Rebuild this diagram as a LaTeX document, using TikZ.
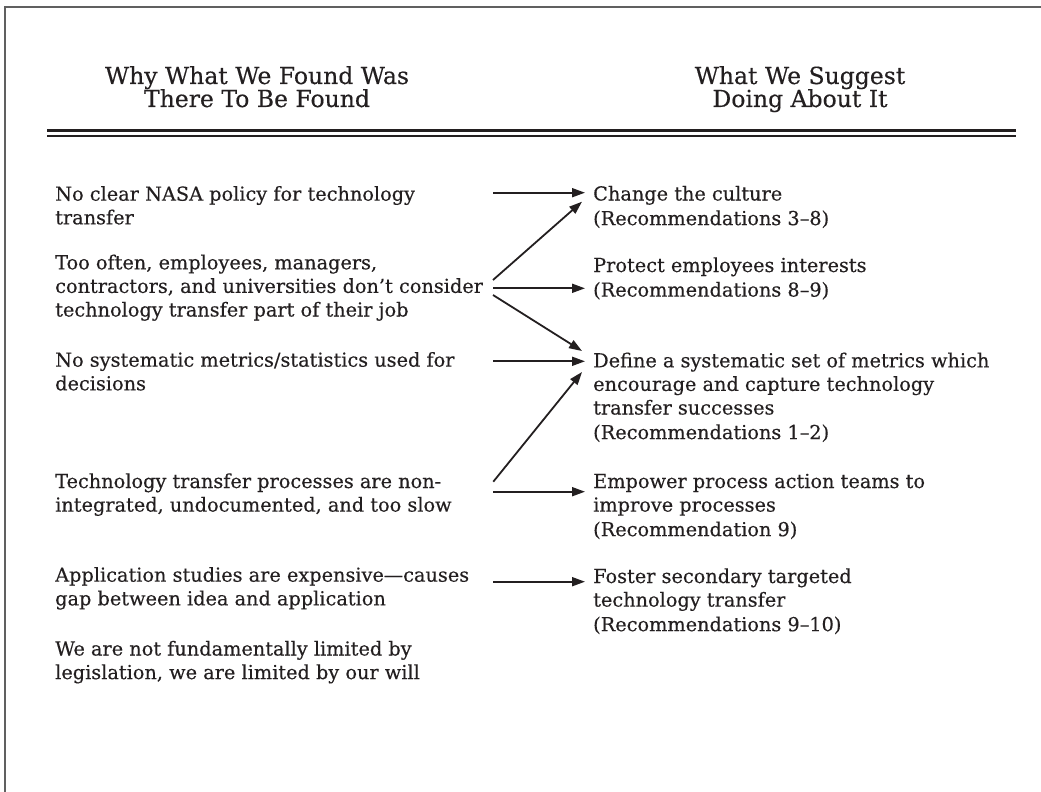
\documentclass[tikz,border=0pt]{standalone}
\usepackage{fontspec}
\setmainfont{DejaVu Serif}[FakeBold=0.35]
\usetikzlibrary{arrows.meta}
\definecolor{ink}{HTML}{231F20}
\definecolor{framegray}{HTML}{606060}
\newcommand{\txtblock}[1]{\parbox[t]{480pt}{\raggedright\lineskiplimit=-\maxdimen #1}}
\newcommand{\ttlblock}[1]{\parbox[t]{400pt}{\centering\lineskiplimit=-\maxdimen #1}}
\tikzset{
  item/.style={anchor=base west, inner sep=0pt, text=ink, font=\fontsize{19.3}{23.6}\selectfont},
  ttl/.style={anchor=base, inner sep=0pt, text=ink, font=\fontsize{23.5}{23}\selectfont},
  link/.style={draw=ink, line width=1.8pt, -{Triangle[length=13pt,width=9pt]}},
}
\begin{document}
\begin{tikzpicture}[x=1pt,y=-1pt]
\useasboundingbox (0,0) rectangle (1041,792);
% frame
\draw[framegray, line width=1.3pt] (5,792) -- (5,7) -- (1041,7);
% titles
\node[ttl] (tl) at (257,84) {\ttlblock{Why What We Found Was\\There To Be Found}};
\node[ttl] (tr) at (800,84) {\ttlblock{What We Suggest\\Doing About It}};
% double rule
\draw[ink, line width=3.5pt] (47,130.5) -- (1016,130.5);
\draw[ink, line width=1.8pt] (47,136.3) -- (1016,136.3);
% left column
\node[item] (L1) at (55,200.7) {\txtblock{No clear NASA policy for technology\\transfer}};
\node[item] (L2) at (55,269.3) {\txtblock{Too often, employees, managers,\\contractors, and universities don’t consider\\technology transfer part of their job}};
\node[item] (L3) at (55,366.7) {\txtblock{No systematic metrics/statistics used for\\decisions}};
\node[item] (L4) at (55,488) {\txtblock{Technology transfer processes are non-\\integrated, undocumented, and too slow}};
\node[item] (L5) at (55,581.7) {\txtblock{Application studies are expensive—causes\\gap between idea and application}};
\node[item] (L6) at (55,655.5) {\txtblock{We are not fundamentally limited by\\legislation, we are limited by our will}};
% right column
\node[item] (R1) at (593,200.5) {\txtblock{Change the culture\\\kern1pt(Recommendations 3–8)}};
\node[item] (R2) at (593,272) {\txtblock{Protect employees interests\\\kern1pt(Recommendations 8–9)}};
\node[item] (R3) at (593,367.3) {\txtblock{Define a systematic set of metrics which\\encourage and capture technology\\transfer successes\\\kern1pt(Recommendations 1–2)}};
\node[item] (R4) at (593,488) {\txtblock{Empower process action teams to\\improve processes\\\kern1pt(Recommendation 9)}};
\node[item] (R5) at (593,583) {\txtblock{Foster secondary targeted\\technology transfer\\\kern1pt(Recommendations 9–10)}};
% connector ends
\coordinate (s1) at (493,192.7);   \coordinate (t1) at (585,192.7);
\coordinate (s2u) at (493,280);    \coordinate (t2u) at (582,201.7);
\coordinate (s2) at (493,288.3);   \coordinate (t2) at (585,288.3);
\coordinate (s2d) at (493,295);    \coordinate (t2d) at (582,351);
\coordinate (s3) at (493,361.3);   \coordinate (t3) at (585,361.3);
\coordinate (s4u) at (493.3,481.7); \coordinate (t4u) at (582,372);
\coordinate (s4) at (493,491.7);   \coordinate (t4) at (585,491.7);
\coordinate (s5) at (493,581.7);   \coordinate (t5) at (585,581.7);
\draw[link] (s1) -- (t1);
\draw[link] (s2u) -- (t2u);
\draw[link] (s2) -- (t2);
\draw[link] (s2d) -- (t2d);
\draw[link] (s3) -- (t3);
\draw[link] (s4u) -- (t4u);
\draw[link] (s4) -- (t4);
\draw[link] (s5) -- (t5);
\end{tikzpicture}
\end{document}
